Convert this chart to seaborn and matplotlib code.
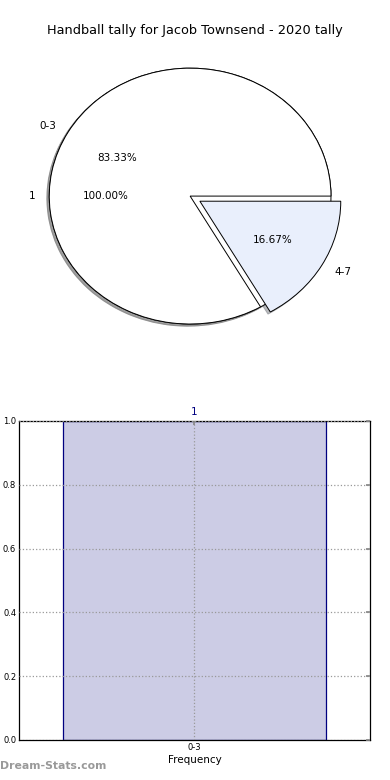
import matplotlib
matplotlib.use("Agg")
import pandas as pd
import seaborn as sns
import matplotlib.pyplot as plt

# tally data
title = "Handball tally for Jacob Townsend - 2020 tally"
total_labels = ["1"]
total_values = [1]
group_labels = ["0-3", "4-7"]
group_values = [5, 1]
bar_cats = ["0-3"]
bar_counts = [1]

sns.set_theme(style="white")
plt.rcParams['font.family'] = ['DejaVu Sans']
plt.rcParams['text.color'] = 'black'
plt.rcParams['xtick.color'] = 'black'
plt.rcParams['ytick.color'] = 'black'
plt.rcParams['axes.labelcolor'] = 'black'

fig = plt.figure(figsize=(3.9, 7.8), dpi=100)

shadow_opts = dict(ox=-0.012, oy=-0.012, shade=0.5)

# pie chart (two pies drawn on top of each other, like the original page)
ax1 = fig.add_axes([0.036, 0.5436, 0.903, 0.410])
ax1.pie(total_values, labels=total_labels, autopct="%.2f%%", shadow=shadow_opts,
        colors=["white"], wedgeprops=dict(edgecolor="black", linewidth=0.7),
        textprops=dict(fontsize=7.5))
ax1.pie(group_values, labels=group_labels, autopct="%.2f%%", shadow=shadow_opts,
        explode=[0, 0.08], colors=["white", "#e9effc"],
        wedgeprops=dict(edgecolor="black", linewidth=0.7),
        textprops=dict(fontsize=7.5))
ax1.set_aspect("auto")
ax1.set_xlim(-1.25, 1.25)
ax1.set_ylim(-1.25, 1.25)
ax1.axis("off")
fig.text(0.5, 0.961, title, ha="center", va="center", fontsize=9.3)

# bar chart
ax2 = fig.add_axes([0.0487, 0.0513, 0.9, 0.409])
df = pd.DataFrame({"group": bar_cats, "count": bar_counts})
sns.barplot(data=df, x="group", y="count", ax=ax2, width=0.75,
            color=(0, 0, 0.5, 0.2), edgecolor="navy", linewidth=0.9,
            saturation=1)
for p in ax2.patches:
    p.set_facecolor((0, 0, 0.5, 0.2))
ax2.set_xlim(-0.5, 0.5)
ax2.set_ylim(0, 1.0)
ax2.set_yticks([0, 0.2, 0.4, 0.6, 0.8, 1.0])
ax2.set_yticklabels(["0.0", "0.2", "0.4", "0.6", "0.8", "1.0"])
ax2.grid(True, linestyle=":", color="#999999", linewidth=0.9)
ax2.set_axisbelow(False)
ax2.tick_params(axis="both", direction="in", length=3, labelsize=6,
                top=True, right=True, color="#888888", pad=2)
for s in ax2.spines.values():
    s.set_visible(True)
    s.set_color("black")
    s.set_linewidth(0.9)
ax2.set_xlabel("Frequency", fontsize=7.5, labelpad=2)
ax2.set_ylabel("")
for i, v in enumerate(bar_counts):
    ax2.text(i, v + 0.012, str(v), color="navy", ha="center", va="bottom",
             fontsize=7.5)

fig.text(0.0, 0.012, "Dream-Stats.com", color="#999999", fontsize=7.8,
         fontweight="semibold", ha="left", va="bottom")

fig.savefig("out.png", dpi=100)
